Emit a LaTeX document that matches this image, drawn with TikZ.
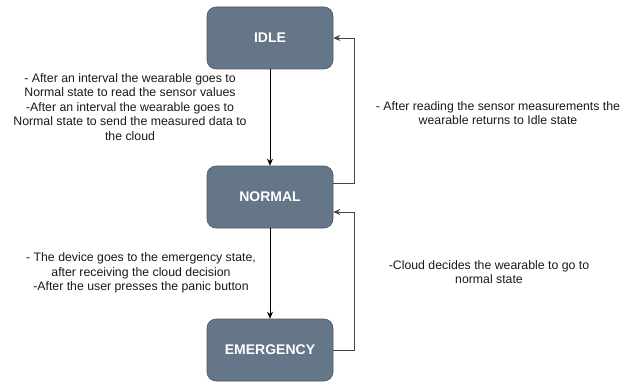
\documentclass[tikz,border=0pt]{standalone}
\usepackage{fontspec}
\setmainfont{Liberation Sans}
\usepackage{xcolor}
\usepackage{tikz}
\usetikzlibrary{arrows.meta, positioning}
\definecolor{statefill}{HTML}{647687}
\definecolor{stateline}{HTML}{4A5866}
\definecolor{linkgray}{HTML}{444444}
\tikzset{
    state/.style={rectangle, rounded corners=9pt, fill=statefill, draw=stateline, line width=0.6pt,
        minimum width=126pt, minimum height=62pt, inner sep=0pt,
        text=white, font=\fontsize{14}{16}\selectfont\bfseries},
    note/.style={align=center, text=black!90, inner sep=0pt, font=\fontsize{12.3}{14.6}\selectfont},
    trans/.style={draw=black, line width=0.7pt, -{Stealth[length=7pt, width=6pt]}},
    back/.style={draw=linkgray, line width=0.8pt, -{Stealth[length=7pt, width=6pt]}}
}

\begin{document}
\begin{tikzpicture}[x=1pt, y=-1pt]
    \useasboundingbox (0,0) rectangle (628,382);
    \node[state] (idle) at (270,38) {IDLE};
    \node[state] (normal) at (270,197) {NORMAL};
    \node[state] (emergency) at (270,350) {EMERGENCY};
    \draw[trans] (idle) -- (normal);
    \draw[trans] (normal) -- (emergency);
    \draw[back] ([yshift=14pt]normal.east) -- ++(21pt,0) |- (idle.east);
    \draw[back] (emergency.east) -- ++(21pt,0) |- ([yshift=-15pt]normal.east);
    \node[note] (wake) at (130,107) {- After an interval the wearable goes to\\Normal state to read the sensor values\\-After an interval the wearable goes to\\Normal state to send the measured data to\\the cloud};
    \node[note] (rest) at (498,113) {- After reading the sensor measurements the\\wearable returns to Idle state};
    \node[note] (alarm) at (141,273) {- The device goes to the emergency state,\\after receiving the cloud decision\\-After the user presses the panic button};
    \node[note] (decide) at (489,272) {-Cloud decides the wearable to go to\\normal state};
\end{tikzpicture}
\end{document}
